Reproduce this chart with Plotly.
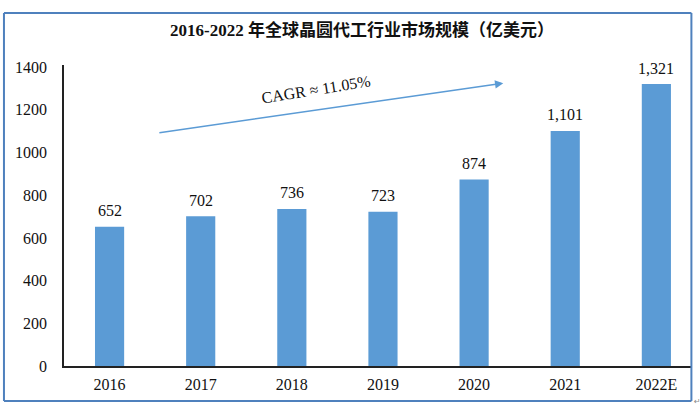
import plotly.graph_objects as go

categories = ["2016", "2017", "2018", "2019", "2020", "2021", "2022E"]
values = [652, 702, 736, 723, 874, 1101, 1321]
y_ticks = [0, 200, 400, 600, 800, 1000, 1200, 1400]
title_text = "2016-2022 年全球晶圆代工行业市场规模（亿美元）"
cagr_text = "CAGR ≈ 11.05%"

SERIF = "Liberation Serif, Times New Roman, Noto Sans CJK SC, serif"
BAR = "#5b9bd5"
FRAME = "#4f81bd"

fig = go.Figure()
fig.add_trace(go.Bar(
    x=list(range(len(categories))),
    y=values,
    marker=dict(color=BAR, line=dict(width=0)),
    width=0.32,
    showlegend=False,
    hoverinfo="skip",
))

annotations = []
for i, v in enumerate(values):
    annotations.append(dict(
        x=i, y=v, xref="x", yref="y", text=f"{v:,}", showarrow=False,
        yshift=16, yanchor="middle",
        font=dict(family=SERIF, size=16, color="#111111"),
    ))

# CAGR arrow
annotations.append(dict(
    x=4.32, y=1325, xref="x", yref="y",
    ax=0.53, ay=1092, axref="x", ayref="y",
    text="", showarrow=True, arrowhead=2, arrowsize=1.1, arrowwidth=1.5,
    arrowcolor=BAR,
))
annotations.append(dict(
    x=2.26, y=1295, xref="x", yref="y", text=cagr_text, showarrow=False,
    textangle=-9, font=dict(family=SERIF, size=16, color="#111111"),
))
# paragraph mark outside the frame
annotations.append(dict(
    x=(697 - 64) / 626.6, y=(366 - 401) / 301, xref="paper", yref="paper",
    text="↵", showarrow=False, xanchor="center", yanchor="middle",
    font=dict(family="DejaVu Sans", size=8, color="#888888"),
))

# frame edges in paper coordinates
fx0, fx1 = (4 - 64) / 626.6, (691 - 64) / 626.6
fy0, fy1 = (366 - 401) / 301, (366 - 13) / 301
frame = [
    (fx0, fy1, fx1, fy1),
    (fx0, fy0, fx1, fy0),
    (fx0, fy0, fx0, fy1),
    (fx1, fy0, fx1, fy1),
]
shapes = [dict(type="line", xref="paper", yref="paper", x0=a, y0=b, x1=c, y1=d,
               line=dict(color=FRAME, width=2), layer="above")
          for a, b, c, d in frame]

fig.update_layout(
    width=700, height=408,
    margin=dict(l=64, r=9.4, t=65, b=42),
    paper_bgcolor="white", plot_bgcolor="white",
    title=dict(
        text=f"<b>{title_text}</b>", x=362 / 700, xanchor="center",
        y=1 - 30 / 408, yanchor="middle",
        font=dict(family=SERIF, size=17, color="#111111"),
    ),
    xaxis=dict(
        tickmode="array", tickvals=list(range(len(categories))), ticktext=categories,
        range=[-0.5, 6.38], showgrid=False, zeroline=False,
        showline=True, linecolor="#222222", linewidth=1.5, ticks="",
        ticklabelstandoff=3,
        tickfont=dict(family=SERIF, size=16, color="#111111"),
    ),
    yaxis=dict(
        tickmode="array", tickvals=y_ticks, range=[0, 1410],
        showgrid=False, zeroline=False, showline=True, linecolor="#222222",
        linewidth=1.5, ticks="", ticklabelstandoff=12,
        tickfont=dict(family=SERIF, size=16, color="#111111"),
    ),
    annotations=annotations,
    shapes=shapes,
)

fig.write_html(
    "out.html",
    config={"displayModeBar": False},
    post_script="document.body.style.margin='0';document.body.style.padding='0';",
)
